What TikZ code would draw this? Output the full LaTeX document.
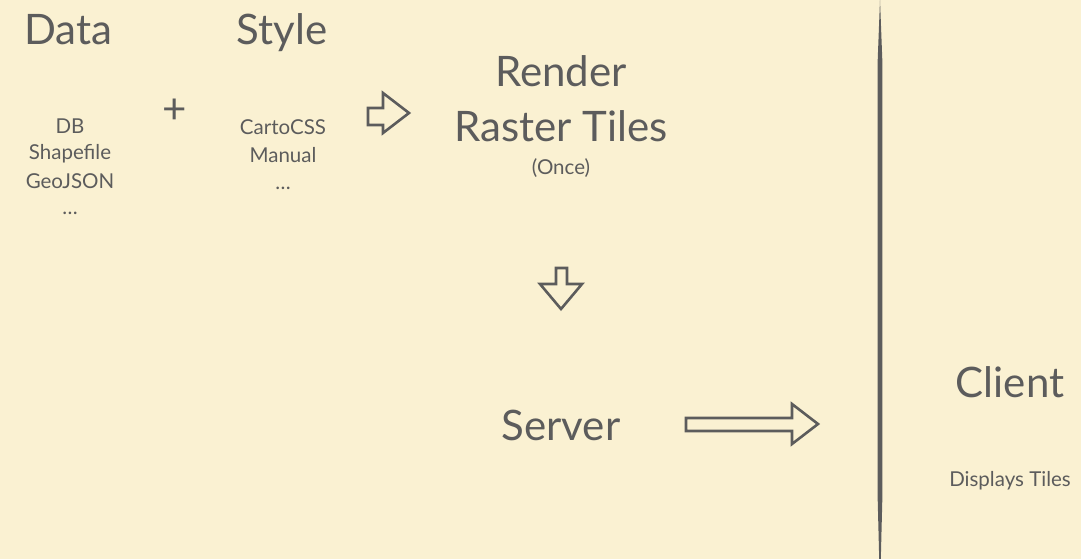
\documentclass[tikz,border=0pt]{standalone}
\usepackage{fontspec}
\setmainfont{Lato}
\definecolor{paper}{RGB}{250,241,210}
\definecolor{ink}{RGB}{92,92,92}
\tikzset{
  big/.style={anchor=base, text=ink, font=\fontsize{42}{48}\selectfont},
  small/.style={anchor=base, text=ink, font=\fontsize{20.5}{24}\selectfont},
  tiny/.style={anchor=base, text=ink, font=\fontsize{20.5}{24}\selectfont},
  blockarrow/.style={draw=ink, line width=2.6pt, line join=miter}
}
\begin{document}
\begin{tikzpicture}[x=1pt, y=-1pt]
        \fill[paper] (0,0) rectangle (1081,559);
        \useasboundingbox (0,0) rectangle (1081,559);
        % data and style
        \node[big] (data) at (68,45) {Data};
        \node[big] (style) at (282,45) {Style};
        \node[small] (db) at (70,133) {DB};
        \node[small] (shp) at (70,160) {Shapefile};
        \node[small] (geojson) at (70,188) {GeoJSON};
        \node[small] (datadots) at (70,214) {\dots};
        \node[big, anchor=center] (plus) at (175,111) {+};
        \node[small] (carto) at (283,135) {CartoCSS};
        \node[small] (manual) at (283,162) {Manual};
        \node[small] (styledots) at (283,189) {\dots};
        % render
        \node[big] (render) at (561,87) {Render};
        \node[big] (raster) at (561,142) {Raster Tiles};
        \node[tiny] (once) at (561,174) {(Once)};
        \node[big] (server) at (561,440) {Server};
        \node[big] (client) at (1010,397) {Client};
        \node[tiny] (displays) at (1010,486) {Displays Tiles};
        % block arrows
        \draw[blockarrow] (368,108) -- (383,108) -- (383,93) -- (409,113)
            -- (383,133) -- (383,125) -- (368,125) -- cycle;
        \draw[blockarrow] (556,268) -- (567,268) -- (567,284) -- (582,284)
            -- (561,309) -- (540,284) -- (556,284) -- cycle;
        \draw[blockarrow] (686,418) -- (792,418) -- (792,404) -- (818,424)
            -- (792,444) -- (792,431) -- (686,431) -- cycle;
        % divider
        \fill[ink] (880,0) -- (882.3,60) -- (882.3,500) -- (880.8,559)
            -- (879.2,559) -- (877.7,500) -- (877.7,60) -- cycle;
    \end{tikzpicture}
\end{document}
